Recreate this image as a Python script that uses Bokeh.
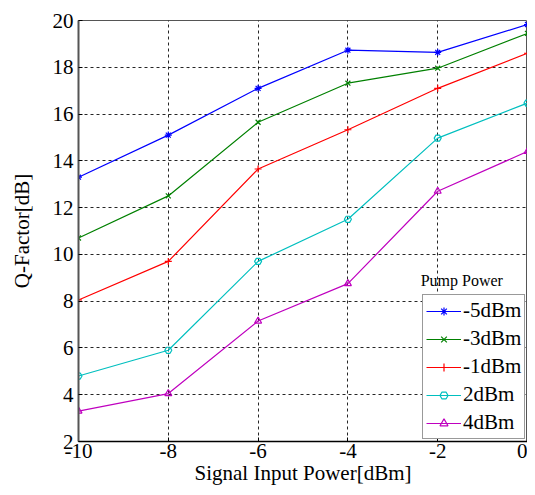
from bokeh.plotting import figure
from bokeh.models import Range1d, Legend, LegendItem, Label, FixedTicker
from bokeh.embed import file_html
from bokeh.resources import INLINE

x_vals = [-10, -8, -6, -4, -2, 0]
series_names = ["-5dBm", "-3dBm", "-1dBm", "2dBm", "4dBm"]
q_m5 = [13.3, 15.1, 17.1, 18.73, 18.64, 19.83]
q_m3 = [10.7, 12.5, 15.65, 17.32, 17.96, 19.45]
q_m1 = [8.05, 9.7, 13.65, 15.33, 17.1, 18.6]
q_p2 = [4.8, 5.9, 9.7, 11.5, 14.97, 16.47]
q_p4 = [3.3, 4.05, 7.15, 8.75, 12.7, 14.4]
x_ticks = [-10, -8, -6, -4, -2, 0]
x_tick_labels = ["-10", "-8", "-6", "-4", "-2", "0"]
y_ticks = [2, 4, 6, 8, 10, 12, 14, 16, 18, 20]

colors = ["#0000ff", "#008000", "#ff0000", "#00bfbf", "#bf00bf"]
markers = ["asterisk", "x", "cross", "hex", "triangle"]
series = [q_m5, q_m3, q_m1, q_p2, q_p4]

FONT = "Liberation Serif"

p = figure(width=527, height=487, output_backend="svg", toolbar_location=None,
           x_range=Range1d(-10, 0), y_range=Range1d(2, 20),
           min_border_left=78, min_border_right=0, min_border_top=20, min_border_bottom=43)

p.xaxis.ticker = FixedTicker(ticks=x_ticks)
p.xaxis.major_label_overrides = {t: s for t, s in zip(x_ticks, x_tick_labels)}
p.yaxis.ticker = FixedTicker(ticks=y_ticks)
for ax in (p.xaxis[0], p.yaxis[0]):
    ax.major_label_text_font = FONT
    ax.major_label_text_font_size = "21px"
    ax.major_label_text_color = "black"
    ax.axis_label_text_font = FONT
    ax.axis_label_text_font_size = "21px"
    ax.axis_label_text_font_style = "normal"
    ax.axis_label_text_color = "black"
    ax.axis_line_color = "#555555"
    ax.axis_line_width = 2
    ax.major_tick_in = 4
    ax.major_tick_out = 0
    ax.minor_tick_line_color = None
    ax.major_tick_line_color = "black"
p.xaxis.axis_line_color = "black"
p.xaxis.axis_line_width = 1.5
p.xaxis.axis_label = "Signal Input Power[dBm]"
p.yaxis.axis_label = "Q-Factor[dB]"
p.xaxis.major_label_standoff = 2
p.xaxis.axis_label_standoff = 0
p.yaxis.major_label_standoff = 5
p.yaxis.axis_label_standoff = 16

p.xgrid.grid_line_color = "black"
p.ygrid.grid_line_color = "black"
p.xgrid.grid_line_dash = "3 3"
p.ygrid.grid_line_dash = "3 3"
p.xgrid.grid_line_alpha = 0.85
p.ygrid.grid_line_alpha = 0.85
p.outline_line_color = "#555555"
p.outline_line_width = 1

items = []
for name, ys, c, m in zip(series_names, series, colors, markers):
    r1 = p.line(x_vals, ys, line_color=c, line_width=1.2)
    r2 = p.scatter(x_vals, ys, marker=m, size=7, line_color=c, fill_color=None, line_width=1.2)
    items.append(LegendItem(label=name, renderers=[r1, r2]))

legend = Legend(items=items, location=(344, 2))
legend.label_text_font = FONT
legend.label_text_font_size = "21px"
legend.label_text_color = "black"
legend.glyph_width = 35
legend.glyph_height = 20
legend.label_height = 20
legend.spacing = 3
legend.padding = 3
legend.margin = 0
legend.label_standoff = 2
legend.border_line_color = "#333333"
legend.border_line_width = 1.5
legend.background_fill_color = "white"
legend.background_fill_alpha = 1
p.add_layout(legend, "center")

title = Label(x=-2.38, y=8.5, text="Pump Power", text_font=FONT, text_font_size="16px",
              text_color="black", text_baseline="bottom", text_align="left")
p.add_layout(title)

open("out.html", "w").write(file_html(p, INLINE))
